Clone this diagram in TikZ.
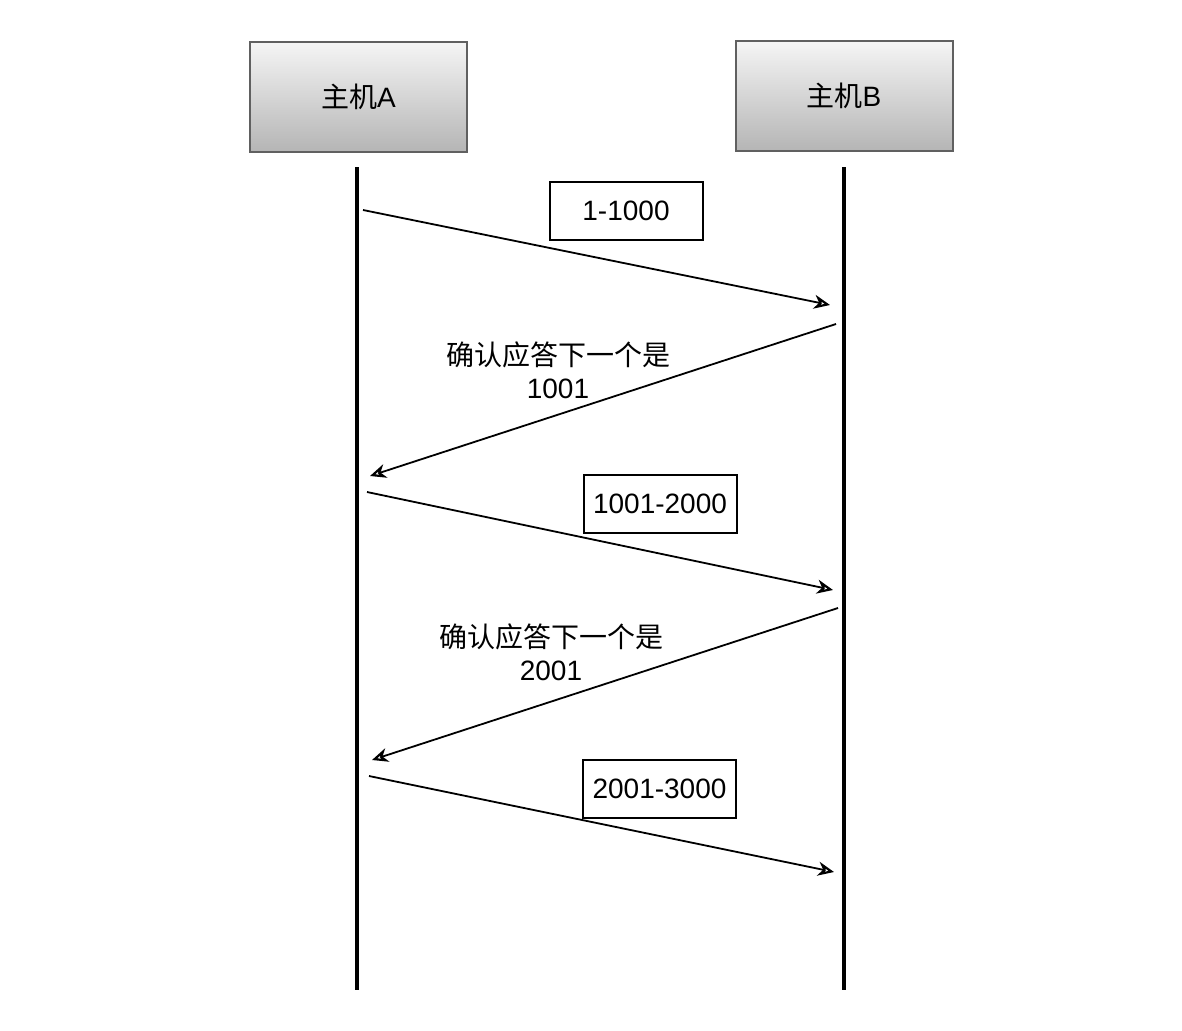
\documentclass[tikz,border=0pt]{standalone}
\usepackage{fontspec}
\setmainfont{Liberation Sans}
\newfontfamily\cjk{Noto Sans CJK SC}
\usepackage{tikz}
\usetikzlibrary{arrows.meta,positioning}
\tikzset{
  host/.style={
    rectangle,
    draw=gray!75!black,
    line width=2pt,
    top color=gray!8,
    bottom color=gray!58,
    minimum width=217pt,
    minimum height=109pt,
    align=center,
    font=\fontsize{28}{34}\selectfont
  },
  segbox/.style={
    rectangle,
    draw=black,
    line width=2pt,
    fill=white,
    minimum width=153pt,
    minimum height=58pt,
    inner sep=0pt,
    align=center,
    font=\fontsize{28}{34}\selectfont
  },
  acklabel/.style={
    align=center,
    inner sep=0pt,
    font=\fontsize{28}{33}\selectfont
  },
  lifeline/.style={
    line width=3.2pt
  },
  msg/.style={
    -{Stealth[open,length=16pt,width=14pt,inset=5pt,line width=2.2pt]},
    line width=1.8pt
  }
}

\begin{document}
\begin{tikzpicture}[x=1pt,y=-1pt]
\useasboundingbox (0,0) rectangle (1182,1030);

\node[host] (hostA) at (358.5,97) {{\cjk 主机}A};
\node[host] (hostB) at (844,96) {{\cjk 主机}B};

% lifelines
\coordinate (atop) at (357,167);
\coordinate (abot) at (357,990);
\coordinate (btop) at (844,167);
\coordinate (bbot) at (844,990);
\draw[lifeline] (atop) -- (abot);
\draw[lifeline] (btop) -- (bbot);

% message end points
\coordinate (a1) at (363,210);
\coordinate (b1) at (830,305);
\coordinate (b2) at (836,324);
\coordinate (a2) at (370,476);
\coordinate (a3) at (367,492);
\coordinate (b3) at (833,590);
\coordinate (b4) at (838,608);
\coordinate (a4) at (372,760);
\coordinate (a5) at (369,776);
\coordinate (b5) at (834,872);

\draw[msg] (a1) -- (b1);
\draw[msg] (b2) -- (a2);
\draw[msg] (a3) -- (b3);
\draw[msg] (b4) -- (a4);
\draw[msg] (a5) -- (b5);

\node[segbox] (seg1) at (626,210.5) {1-1000};
\node[segbox] (seg2) at (660,503.5) {1001-2000};
\node[segbox] (seg3) at (659.5,788.5) {2001-3000};

\node[acklabel] (ack1) at (558,370) {{\cjk 确认应答下一个是}\\1001};
\node[acklabel] (ack2) at (551,652) {{\cjk 确认应答下一个是}\\2001};

\end{tikzpicture}
\end{document}
